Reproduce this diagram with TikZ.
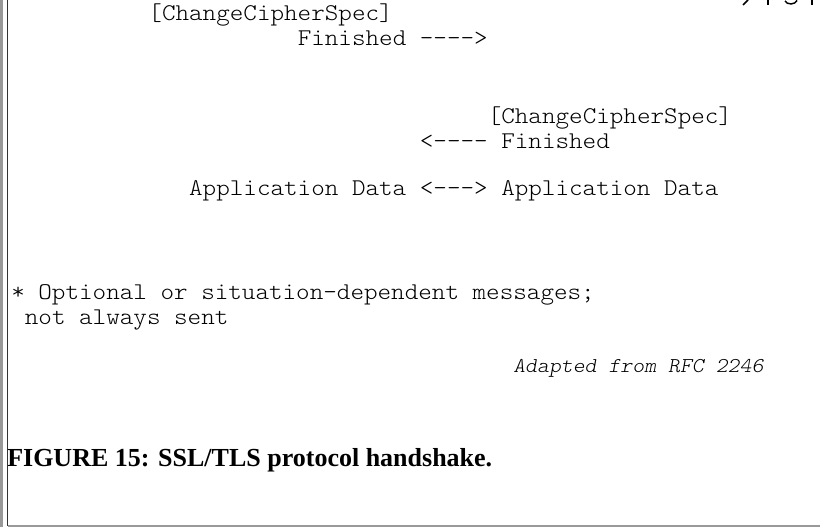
\documentclass[tikz,border=0pt]{standalone}
\usepackage{fontspec}
\newfontfamily\capfont{Liberation Serif}
\newcommand\sx[1]{\scalebox{1.077}[1]{#1}}
\begin{document}
\begin{tikzpicture}[x=0.75pt,y=-0.75pt,
  mono/.style={anchor=base west, inner sep=0pt, text=black,
    font={\fontfamily{lmtt}\fontseries{l}\fontshape{n}\fontsize{18}{20}\selectfont}},
  monoit/.style={anchor=base west, inner sep=0pt, text=black,
    font={\fontfamily{lmtt}\fontseries{l}\fontshape{it}\fontsize{15.8}{18}\selectfont}},
  captext/.style={anchor=base west, inner sep=0pt, text=black,
    font={\capfont\bfseries\fontsize{19.5}{22}\selectfont}},
  outerline/.style={draw=black!40, line width=1.5pt},
  innerline/.style={draw=black!80, line width=1.2pt},
  glyphbit/.style={draw=black, line width=1.1pt}]
\useasboundingbox (0,0) rectangle (820,527);
% borders
\coordinate (ob1) at (1.5,0);
\coordinate (ob2) at (1.5,527);
\coordinate (ib1) at (7.5,0);
\coordinate (ib2) at (7.5,525.5);
\coordinate (bb2) at (820,525.5);
\draw[outerline] (ob1) -- (ob2);
\draw[innerline] (ib1) -- (ib2);
\draw[outerline] (ib2) -- (bb2);
% cut-off glyph tails at top right
\coordinate (ya) at (748,0);
\coordinate (yb) at (743,5);
\coordinate (pa) at (768,0);
\coordinate (pb) at (768,5);
\coordinate (ga) at (785,1);
\coordinate (gb) at (797,0.5);
\coordinate (qa) at (812,0);
\coordinate (qb) at (812,5);
\draw[glyphbit] (ya) -- (yb);
\draw[glyphbit] (pa) -- (pb);
\draw[glyphbit] (ga) .. controls (787,5) and (795,5) .. (gb);
\draw[glyphbit] (qa) -- (qb);
% text
\node[mono] (ccs1) at (148.2,21) {\sx{[ChangeCipherSpec]}};
\node[mono] (fin1) at (297.5,46) {\sx{Finished -{}-{}-{}-{}>}};
\node[mono] (ccs2) at (487.5,124) {\sx{[ChangeCipherSpec]}};
\node[mono] (fin2) at (419.6,149) {\sx{<-{}-{}-{}-{} Finished}};
\node[mono] (app) at (188.9,196) {\sx{Application Data <-{}-{}-{}> Application Data}};
\node[mono] (opt1) at (11,299) {\sx{* Optional or situation-dependent messages;}};
\node[mono] (opt2) at (24.6,324) {\sx{not always sent}};
\node[monoit] (adapt) at (513,372) {\sx{Adapted from RFC 2246}};
\node[captext] (cap) at (7,466) {FIGURE 15: SSL/TLS protocol handshake.};
\end{tikzpicture}
\end{document}
